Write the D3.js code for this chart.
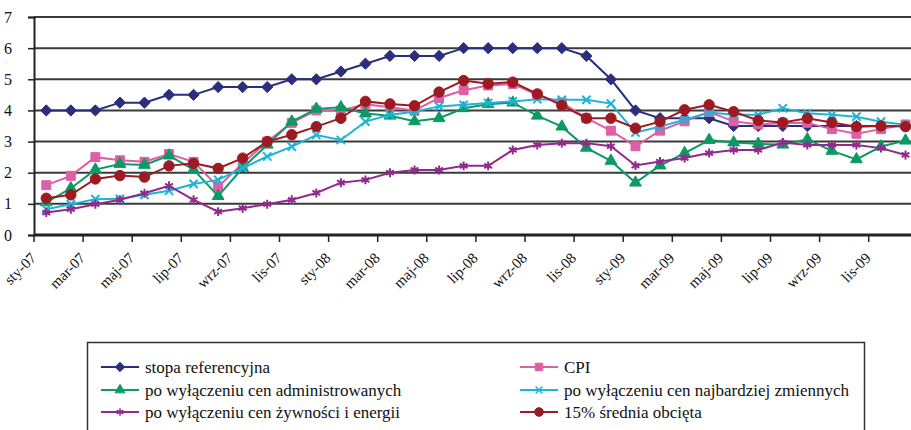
<!DOCTYPE html>
<html>
<head>
<meta charset="utf-8">
<script src="https://cdn.jsdelivr.net/npm/d3@7"></script>
<style>
  body { margin: 0; background: #fff; }
  text { font-family: "Liberation Serif", "Times New Roman", serif; fill: #111; }
</style>
</head>
<body>
<svg class="chart" width="911" height="430"></svg>
<script>
// categories: months Jan 2007 - Dec 2009
const monthNames = ['sty', 'lut', 'mar', 'kwi', 'maj', 'cze', 'lip', 'sie', 'wrz', 'paź', 'lis', 'gru'];
const years = ['07', '08', '09'];
const months = years.flatMap(y => monthNames.map(m => `${m}-${y}`));

const yTicks = [0, 1, 2, 3, 4, 5, 6, 7];

const stopaReferencyjna = [4, 4, 4, 4.25, 4.25, 4.5, 4.5, 4.75, 4.75, 4.75, 5, 5,
  5.25, 5.5, 5.75, 5.75, 5.75, 6, 6, 6, 6, 6, 5.75, 5,
  4, 3.75, 3.75, 3.75, 3.5, 3.5, 3.5, 3.5, 3.5, 3.5, 3.5, 3.5];
const cpi = [1.6, 1.9, 2.5, 2.4, 2.35, 2.6, 2.35, 1.55, 2.3, 3.0, 3.6, 4.0,
  4.0, 4.2, 4.1, 4.0, 4.4, 4.65, 4.8, 4.85, 4.5, 4.25, 3.75, 3.35,
  2.85, 3.35, 3.65, 3.95, 3.65, 3.55, 3.6, 3.6, 3.4, 3.25, 3.4, 3.55];
const bezAdministrowanych = [1.05, 1.5, 2.1, 2.28, 2.25, 2.55, 2.1, 1.25, 2.15, 2.9, 3.64, 4.05,
  4.1, 3.9, 3.83, 3.65, 3.75, 4.07, 4.2, 4.25, 3.83, 3.48, 2.8, 2.38,
  1.68, 2.23, 2.63, 3.05, 2.97, 2.93, 2.9, 3.07, 2.7, 2.43, 2.84, 3.03];
const bezZmiennych = [0.83, 0.99, 1.15, 1.16, 1.29, 1.42, 1.64, 1.77, 2.15, 2.52, 2.84, 3.21,
  3.05, 3.64, 3.86, 3.96, 4.13, 4.18, 4.24, 4.29, 4.36, 4.34, 4.34, 4.22,
  3.29, 3.48, 3.7, 3.93, 3.86, 3.86, 4.07, 3.91, 3.86, 3.8, 3.64, 3.54];
const bezZywnosciEnergii = [0.72, 0.83, 0.99, 1.13, 1.34, 1.58, 1.13, 0.75, 0.86, 0.99, 1.13, 1.35,
  1.68, 1.77, 2.0, 2.09, 2.09, 2.22, 2.22, 2.73, 2.89, 2.95, 2.95, 2.85,
  2.23, 2.36, 2.47, 2.63, 2.73, 2.73, 2.97, 2.89, 2.89, 2.89, 2.79, 2.57];
const sredniaObcieta = [1.18, 1.29, 1.8, 1.91, 1.86, 2.22, 2.3, 2.14, 2.47, 3.0, 3.22, 3.48,
  3.75, 4.29, 4.21, 4.15, 4.59, 4.96, 4.86, 4.91, 4.53, 4.16, 3.75, 3.75,
  3.43, 3.64, 4.02, 4.18, 3.96, 3.68, 3.61, 3.75, 3.61, 3.48, 3.5, 3.48];

const series = [
  { name: 'stopa referencyjna', values: stopaReferencyjna, color: '#2b2e7c', symbol: d3.symbolDiamond2, size: 80, fill: true },
  { name: 'CPI', values: cpi, color: '#dd5fa5', symbol: d3.symbolSquare, size: 80, fill: true },
  { name: 'po wyłączeniu cen administrowanych', values: bezAdministrowanych, color: '#0b9a64', symbol: d3.symbolTriangle, size: 60, fill: true },
  { name: 'po wyłączeniu cen najbardziej zmiennych', values: bezZmiennych, color: '#1fb4d6', symbol: d3.symbolTimes || d3.symbolCross, size: 46, fill: false },
  { name: 'po wyłączeniu cen żywności i energii', values: bezZywnosciEnergii, color: '#912a8d', symbol: d3.symbolAsterisk || d3.symbolCross, size: 56, fill: false },
  { name: '15% średnia obcięta', values: sredniaObcieta, color: '#9c1b22', symbol: d3.symbolCircle, size: 85, fill: true }
];

const startApp = () => {
  const svg = d3.select('.chart');
  const left = 34;
  const step = 24.55;

  const x = d3.scaleBand()
    .domain(months)
    .range([left, left + months.length * step]);

  const y = d3.scaleLinear()
    .domain([0, 7])
    .range([235, 17]);

  const cx = d => x(d) + x.bandwidth() / 2;

  // gridlines
  svg.append('g')
    .selectAll('line')
    .data(yTicks.filter(t => t > 0))
    .enter()
    .append('line')
    .attr('x1', left)
    .attr('x2', 911)
    .attr('y1', d => y(d))
    .attr('y2', d => y(d))
    .attr('stroke', '#3a3a3a')
    .attr('stroke-width', 2);

  // y axis
  const yAxis = svg.append('g')
    .attr('transform', `translate(${left},0)`)
    .call(d3.axisLeft(y).tickValues(yTicks).tickSize(6).tickPadding(16).tickFormat(d3.format('d')));
  yAxis.select('.domain').attr('stroke', '#222').attr('stroke-width', 2);
  yAxis.selectAll('.tick line').attr('stroke', '#222').attr('stroke-width', 1.5);
  yAxis.selectAll('text')
    .attr('font-size', 16)
    .attr('font-family', '"Liberation Serif", serif')
    .attr('fill', '#222');

  // x axis line + ticks every 2 months
  svg.append('line')
    .attr('x1', left)
    .attr('x2', 911)
    .attr('y1', y(0))
    .attr('y2', y(0))
    .attr('stroke', '#222')
    .attr('stroke-width', 3);

  const labelled = months.filter((m, i) => i % 2 === 0);

  svg.append('g')
    .selectAll('line')
    .data(labelled)
    .enter()
    .append('line')
    .attr('x1', d => x(d))
    .attr('x2', d => x(d))
    .attr('y1', y(0))
    .attr('y2', y(0) + 7)
    .attr('stroke', '#222')
    .attr('stroke-width', 1.5);

  // month labels, end of text pinned just right of the tick
  svg.append('g')
    .selectAll('text')
    .data(labelled)
    .enter()
    .append('text')
    .attr('transform', d => `translate(${x(d) + 3},259) rotate(-45)`)
    .attr('text-anchor', 'end')
    .attr('font-size', 15)
    .text(d => d);

  // series lines + markers
  const line = d3.line()
    .x((d, i) => cx(months[i]))
    .y(d => y(d));

  series.forEach(s => {
    svg.append('path')
      .datum(s.values)
      .attr('fill', 'none')
      .attr('stroke', s.color)
      .attr('stroke-width', 2)
      .attr('d', line);

    svg.append('g')
      .selectAll('path')
      .data(s.values)
      .enter()
      .append('path')
      .attr('transform', (d, i) => `translate(${cx(months[i])},${y(d)})`)
      .attr('d', d3.symbol().type(s.symbol).size(s.size))
      .attr('fill', s.fill ? s.color : 'none')
      .attr('stroke', s.color)
      .attr('stroke-width', s.fill ? 1 : 2);
  });

  // legend
  const legend = svg.append('g');
  legend.append('rect')
    .attr('x', 87.5)
    .attr('y', 342.5)
    .attr('width', 777)
    .attr('height', 120)
    .attr('fill', 'none')
    .attr('stroke', '#333')
    .attr('stroke-width', 1.5);

  const cols = [101, 520];
  const rows = [367, 390, 412];

  const item = legend.selectAll('g.item')
    .data(series)
    .enter()
    .append('g')
    .attr('class', 'item')
    .attr('transform', (d, i) => `translate(${cols[i % 2]},${rows[Math.floor(i / 2)]})`);

  item.append('line')
    .attr('x1', 0)
    .attr('x2', 38)
    .attr('stroke', d => d.color)
    .attr('stroke-width', 2);

  item.append('path')
    .attr('transform', 'translate(19,0)')
    .attr('d', d => d3.symbol().type(d.symbol).size(d.size * 0.7)())
    .attr('fill', d => (d.fill ? d.color : 'none'))
    .attr('stroke', d => d.color)
    .attr('stroke-width', d => (d.fill ? 1 : 1.5));

  item.append('text')
    .attr('x', 44)
    .attr('y', 6)
    .attr('font-size', 17)
    .text(d => d.name);
};

window.onload = startApp;
</script>
</body>
</html>
